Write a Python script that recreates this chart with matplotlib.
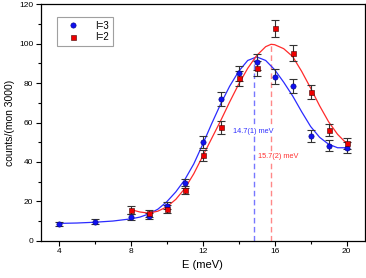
import matplotlib
matplotlib.use("Agg")
import matplotlib.pyplot as plt
from matplotlib.ticker import MultipleLocator

plt.rcParams["font.family"] = ["Liberation Sans", "DejaVu Sans"]

# measured points, I=3 (blue)
e_i3 = [4, 6, 8, 9, 10, 11, 12, 13, 14, 15, 16, 17, 18, 19, 20]
c_i3 = [8.5, 9.7, 12.2, 12.7, 17.8, 29.1, 50.1, 71.8, 85.0, 90.9, 83.3, 78.7, 53.1, 48.2, 47.2]
err_i3 = [1.2, 1.3, 1.5, 1.5, 1.8, 2.4, 3.0, 3.5, 3.8, 4.0, 3.8, 3.5, 3.0, 2.8, 2.7]

# measured points, I=2 (red)
e_i2 = [8, 9, 10, 11, 12, 13, 14, 15, 16, 17, 18, 19, 20]
c_i2 = [15.6, 13.9, 16.1, 25.7, 43.3, 57.6, 82.4, 87.5, 107.8, 95.1, 75.6, 56.2, 49.4]
err_i2 = [1.8, 1.6, 1.8, 2.2, 2.8, 3.3, 3.8, 3.8, 4.2, 4.0, 3.5, 3.0, 2.8]

# fit curves
fit_e_i3 = [4, 5, 6, 7, 8, 8.5, 9, 9.5, 10, 10.5, 11, 11.5, 12, 12.5, 13, 13.5,
            14, 14.5, 15, 15.5, 16, 16.5, 17, 17.5, 18, 18.5, 19, 19.5, 20]
fit_c_i3 = [8.8, 9.0, 9.4, 10.0, 11.1, 12.0, 13.6, 16.0, 19.8, 24.8, 31.0, 39.0,
            49.0, 59.5, 69.5, 78.5, 86.0, 91.5, 93.3, 91.5, 86.8, 80.5, 73.5,
            65.5, 58.0, 52.5, 49.0, 47.2, 47.2]
fit_e_i2 = [8, 8.5, 9, 9.5, 10, 10.5, 11, 11.5, 12, 12.5, 13, 13.5, 14, 14.5,
            15, 15.5, 15.8, 16, 16.5, 17, 17.5, 18, 18.5, 19, 19.5, 20]
fit_c_i2 = [15.8, 14.6, 14.0, 15.0, 17.2, 21.0, 26.5, 34.0, 43.0, 52.0, 61.0,
            70.5, 79.5, 87.5, 94.0, 98.5, 99.7, 99.5, 97.5, 93.5, 86.0, 77.5,
            68.5, 60.4, 54.0, 49.4]

# peak positions of the fits
peak_e = [14.86, 15.8]
peak_c = [93.5, 99.7]
peak_labels = ["14.7(1) meV", "15.7(2) meV"]

blue = "#2b2bff"
red = "#ff2b2b"

fig = plt.figure(figsize=(3.66, 2.78), dpi=100)
ax = fig.add_axes([0.112, 0.134, 0.884, 0.8505])

ax.vlines(peak_e[0], 0, peak_c[0], colors="#7777ff", linestyles=(0, (4, 2.5)), linewidth=1.0, zorder=1)
ax.vlines(peak_e[1], 0, peak_c[1], colors="#ff8888", linestyles=(0, (4, 2.5)), linewidth=1.0, zorder=1)

ax.plot(fit_e_i3, fit_c_i3, color=blue, linewidth=0.9, zorder=2)
ax.plot(fit_e_i2, fit_c_i2, color=red, linewidth=0.9, zorder=2)

# error bars first, then markers (legend shows markers only)
ax.errorbar(e_i3, c_i3, yerr=err_i3, fmt="none", ecolor="#333333", elinewidth=0.8,
            capsize=2.8, capthick=0.8, zorder=3)
ax.errorbar(e_i2, c_i2, yerr=err_i2, fmt="none", ecolor="#333333", elinewidth=0.8,
            capsize=2.8, capthick=0.8, zorder=3)
ax.plot(e_i3, c_i3, "o", color="#1010ee", mec="#000080", mew=0.4, ms=3.8, label="I=3", zorder=4)
ax.plot(e_i2, c_i2, "s", color="#ee0000", mec="#400000", mew=0.4, ms=3.6, label="I=2", zorder=4)

ax.text(13.7, 55.7, peak_labels[0], color="#3030ff", fontsize=5.3, va="center", ha="left",
        bbox=dict(facecolor="white", edgecolor="none", pad=0.5), zorder=5)
ax.text(15.1, 42.6, peak_labels[1], color="#ff3030", fontsize=5.3, va="center", ha="left",
        bbox=dict(facecolor="white", edgecolor="none", pad=0.5), zorder=5)

ax.set_xlim(3, 21)
ax.set_ylim(0, 120)
ax.xaxis.set_major_locator(MultipleLocator(4))
ax.xaxis.set_minor_locator(MultipleLocator(2))
ax.yaxis.set_major_locator(MultipleLocator(20))
ax.yaxis.set_minor_locator(MultipleLocator(10))
ax.tick_params(which="major", direction="out", length=3.5, width=0.8, labelsize=6, pad=2)
ax.tick_params(which="minor", direction="out", length=2, width=0.8)
for s in ax.spines.values():
    s.set_linewidth(0.9)

ax.set_xlabel("E (meV)", fontsize=8, labelpad=3)
ax.set_ylabel("counts/(mon 3000)", fontsize=7.5, labelpad=3)

leg = ax.legend(loc="upper left", bbox_to_anchor=(0.05, 0.945), fontsize=7,
                frameon=True, fancybox=False, borderpad=0.35, handletextpad=1.0,
                labelspacing=0.15, handlelength=2.6, borderaxespad=0)
leg.get_frame().set_edgecolor("#888888")
leg.get_frame().set_linewidth(0.8)

fig.savefig("out.png", dpi=100)
